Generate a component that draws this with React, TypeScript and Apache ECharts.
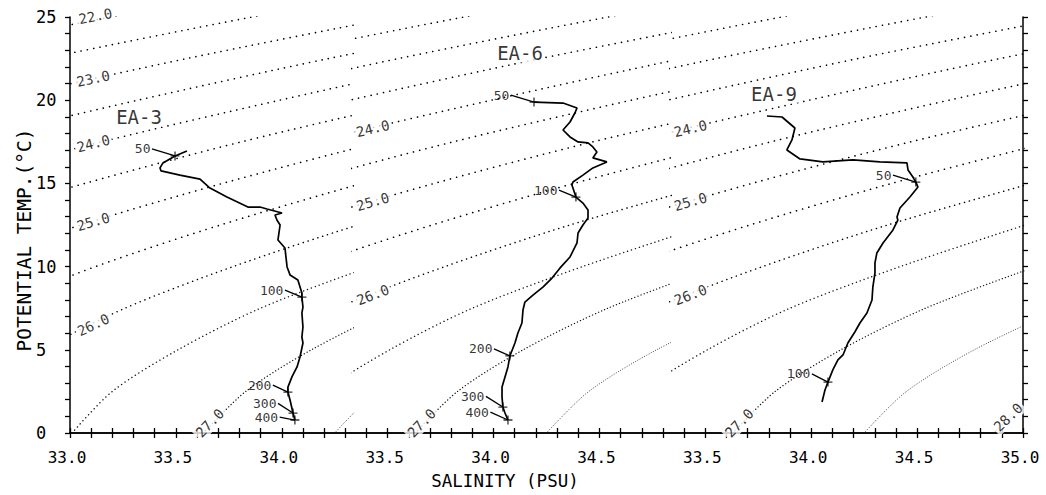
import React, { useEffect, useRef } from 'react';
import * as echarts from 'echarts';

const FONT = '"DejaVu Sans Mono", "Liberation Mono", monospace';

// Continuous plotting axis (u) and the three panels' local salinity offsets
const U_MIN = 33.0;
const U_MAX = 37.5;
const PANEL_U = [[33.0, 34.3333], [34.3333, 35.8333], [35.8333, 37.5]];
const PANEL_OFFSET = [0, 1.0, 2.5];

// Sigma-theta contour levels and points [S, T]
const CONTOUR_LEVELS = [22.0, 22.5, 23.0, 23.5, 24.0, 24.5, 25.0, 25.5, 26.0, 26.5, 27.0, 27.5, 28.0];
const CONTOUR_POINTS = [
  [[32.21, 22.5], [33.19, 25], [34.25, 27.5]],
  [[31.99, 20], [32.88, 22.5], [33.86, 25], [34.93, 27.5]],
  [[32.65, 20], [33.55, 22.5], [34.54, 25], [35.61, 27.5]],
  [[32.48, 17.5], [33.32, 20], [34.22, 22.5], [35.22, 25]],
  [[32.41, 15], [33.15, 17.5], [33.99, 20], [34.89, 22.5], [35.89, 25]],
  [[32.40, 12.5], [33.07, 15], [33.81, 17.5], [34.65, 20], [35.56, 22.5]],
  [[32.47, 10], [33.05, 12.5], [33.72, 15], [34.47, 17.5], [35.32, 20]],
  [[32.62, 7.5], [33.12, 10], [33.71, 12.5], [34.38, 15], [35.13, 17.5]],
  [[32.40, 0], [32.58, 2.5], [32.87, 5], [33.26, 7.5], [33.77, 10], [34.36, 12.5], [35.04, 15]],
  [[33.01, 0], [33.20, 2.5], [33.51, 5], [33.90, 7.5], [34.42, 10], [35.01, 12.5]],
  [[33.63, 0], [33.83, 2.5], [34.14, 5], [34.54, 7.5], [35.06, 10]],
  [[34.25, 0], [34.45, 2.5], [34.77, 5], [35.18, 7.5]],
  [[34.86, 0], [35.08, 2.5]],
];

// Contour labels per panel: [text, S, T]
const CONTOUR_LABELS = [
  [['22.0', 33.12, 25.05], ['23.0', 33.11, 21.3], ['24.0', 33.11, 17.4], ['25.0', 33.11, 12.7], ['26.0', 33.11, 6.5], ['27.0', 33.66, 0.6]],
  [['24.0', 33.43, 18.3], ['25.0', 33.43, 13.9], ['26.0', 33.43, 8.3], ['27.0', 33.66, 0.6]],
  [['24.0', 33.43, 18.3], ['25.0', 33.43, 13.9], ['26.0', 33.43, 8.3], ['27.0', 33.66, 0.6], ['28.0', 34.93, 0.95]],
];
const CONTOUR_LABEL_ROT = [
  [11, 12, 14, 16, 25, 46],
  [13, 16, 21, 46],
  [13, 16, 21, 46, 44],
];

// Stations
const STATION_NAMES = ['EA-3', 'EA-6', 'EA-9'];
const STATION_NAME_POS = [[33.326, 18.99], [34.125, 22.84], [33.824, 20.37]];

const EA3 = [
  [33.552, 16.95], [33.496, 16.65], [33.439, 16.23], [33.425, 15.93], [33.430, 15.75], [33.519, 15.50],
  [33.614, 15.26], [33.661, 14.72], [33.741, 14.18], [33.840, 13.58], [33.897, 13.58], [33.930, 13.46],
  [34.001, 13.22], [33.968, 13.10], [33.977, 12.80], [33.992, 12.50], [33.982, 11.60], [34.015, 11.12],
  [34.025, 9.98], [34.039, 9.50], [34.076, 9.19], [34.095, 8.41], [34.095, 8.17], [34.100, 7.57],
  [34.095, 7.21], [34.100, 6.37], [34.095, 5.77], [34.100, 5.41], [34.086, 4.57], [34.072, 3.97],
  [34.048, 3.37], [34.029, 2.76], [34.029, 2.46], [34.039, 1.98], [34.053, 1.20], [34.062, 0.78],
];
const EA6 = [
  [34.191, 19.89], [34.328, 19.83], [34.394, 19.53], [34.384, 19.23], [34.361, 18.69], [34.328, 18.21],
  [34.361, 17.79], [34.399, 17.49], [34.446, 17.43], [34.469, 17.19], [34.488, 16.89], [34.469, 16.53],
  [34.535, 16.29], [34.469, 15.93], [34.422, 15.50], [34.375, 15.08], [34.370, 14.90], [34.389, 14.18],
  [34.422, 13.82], [34.446, 13.40], [34.446, 12.92], [34.422, 12.50], [34.399, 12.02], [34.394, 11.42],
  [34.361, 10.58], [34.314, 9.92], [34.276, 9.31], [34.233, 8.77], [34.186, 8.29], [34.148, 7.87],
  [34.139, 7.39], [34.134, 6.61], [34.115, 6.01], [34.101, 5.41], [34.077, 4.63], [34.068, 3.97],
  [34.054, 3.37], [34.040, 2.76], [34.040, 2.16], [34.044, 1.56], [34.054, 1.20], [34.068, 0.78],
];
const EA9 = [
  [33.791, 19.05], [33.862, 18.99], [33.923, 18.33], [33.909, 17.61], [33.885, 17.01], [33.947, 16.47],
  [34.055, 16.29], [34.197, 16.41], [34.324, 16.29], [34.452, 16.23], [34.457, 15.81], [34.480, 15.38],
  [34.494, 15.08], [34.504, 14.78], [34.466, 14.18], [34.419, 13.52], [34.405, 12.98], [34.409, 12.80],
  [34.386, 12.20], [34.339, 11.42], [34.310, 10.82], [34.301, 10.22], [34.301, 9.62], [34.291, 8.77],
  [34.287, 7.99], [34.263, 7.21], [34.230, 6.61], [34.206, 6.07], [34.173, 5.41], [34.150, 4.69],
  [34.126, 4.39], [34.102, 3.79], [34.079, 3.06], [34.065, 2.58], [34.051, 1.86],
];
const STATION_DATA = [EA3, EA6, EA9];

// Depth marks: label text, marker point, leader start point
const EA3_DEPTHS = ['50', '100', '200', '300', '400'];
const EA3_MARK_AT = [[33.496, 16.65], [34.095, 8.17], [34.029, 2.46], [34.053, 1.20], [34.062, 0.78]];
const EA3_MARK_FROM = [[33.387, 17.07], [34.015, 8.59], [33.958, 2.88], [33.982, 1.78], [33.990, 0.95]];
const EA6_DEPTHS = ['50', '100', '200', '300', '400'];
const EA6_MARK_AT = [[34.191, 19.89], [34.389, 14.18], [34.077, 4.63], [34.044, 1.56], [34.068, 0.78]];
const EA6_MARK_FROM = [[34.082, 20.31], [34.309, 14.60], [34.002, 5.05], [33.964, 2.20], [33.985, 1.25]];
const EA9_DEPTHS = ['50', '100'];
const EA9_MARK_AT = [[34.494, 15.08], [34.079, 3.06]];
const EA9_MARK_FROM = [[34.386, 15.50], [34.003, 3.55]];
const DEPTHS = [EA3_DEPTHS, EA6_DEPTHS, EA9_DEPTHS];
const MARK_AT = [EA3_MARK_AT, EA6_MARK_AT, EA9_MARK_AT];
const MARK_FROM = [EA3_MARK_FROM, EA6_MARK_FROM, EA9_MARK_FROM];

const Y_TICK_LABELS_STEP = 5;

function xLabel(v: number): string {
  const off = v < 34.3334 ? PANEL_OFFSET[0] : v < 35.8334 ? PANEL_OFFSET[1] : PANEL_OFFSET[2];
  return (v - off).toFixed(1);
}

function dotStyle(lv: number) {
  if (lv <= 25.5) return { width: 1.6, type: [0.1, 6.3], color: '#000' };
  if (lv === 26.0) return { width: 1.5, type: [0.1, 5], color: '#000' };
  if (lv === 26.5) return { width: 1.4, type: [0.1, 4], color: '#111' };
  if (lv === 27.0) return { width: 1.3, type: [0.1, 3.2], color: '#111' };
  return { width: 1.0, type: [0.1, 2.4], color: '#333' };
}

export default function App() {
  const ref = useRef<HTMLDivElement>(null);
  useEffect(() => {
    const chart = echarts.init(ref.current!, null, { renderer: 'svg' });
    const GL = 70, GT = 17, GW = 953, GH = 416;
    const px = GW / (U_MAX - U_MIN);

    const grids: any[] = [{ left: GL, top: GT, width: GW, height: GH, containLabel: false, outerBoundsMode: 'none' }];
    const xAxes: any[] = [];
    const yAxes: any[] = [];
    const axisCommonLine = { show: true, lineStyle: { color: '#000', width: 1.5 } };
    const tick = { show: true, inside: false, length: 5, lineStyle: { color: '#000', width: 1.3 } };
    const minor = { show: true, splitNumber: 5, length: 5, lineStyle: { color: '#000', width: 1.3 } };
    xAxes.push({
      type: 'value', gridIndex: 0, position: 'bottom', min: U_MIN, max: U_MAX, interval: 0.5,
      axisLine: axisCommonLine, axisTick: tick, minorTick: minor,
      splitLine: { show: false }, minorSplitLine: { show: false },
      axisLabel: { show: true, formatter: xLabel, margin: 16, fontFamily: FONT, fontSize: 16, color: '#000', padding: [0, 6, 0, 0] },
    });
    xAxes.push({
      type: 'value', gridIndex: 0, position: 'top', min: U_MIN, max: U_MAX, interval: 0.5,
      axisLine: axisCommonLine, axisTick: tick, minorTick: minor,
      splitLine: { show: false }, axisLabel: { show: false },
    });
    yAxes.push({
      type: 'value', gridIndex: 0, position: 'left', min: 0, max: 25, interval: Y_TICK_LABELS_STEP,
      axisLine: axisCommonLine, axisTick: tick, minorTick: minor,
      splitLine: { show: false },
      axisLabel: { show: true, align: 'left', margin: 34, fontFamily: FONT, fontSize: 17, color: '#000' },
    });
    yAxes.push({
      type: 'value', gridIndex: 0, position: 'right', min: 0, max: 25, interval: Y_TICK_LABELS_STEP,
      axisLine: axisCommonLine, axisTick: tick, minorTick: minor,
      splitLine: { show: false }, axisLabel: { show: false },
    });

    PANEL_U.forEach((rng, p) => {
      grids.push({ left: GL + (rng[0] - U_MIN) * px, top: GT, width: (rng[1] - rng[0]) * px, height: GH, containLabel: false, outerBoundsMode: 'none' });
      xAxes.push({ type: 'value', gridIndex: p + 1, show: false, min: rng[0] - PANEL_OFFSET[p], max: rng[1] - PANEL_OFFSET[p] });
      yAxes.push({ type: 'value', gridIndex: p + 1, show: false, min: 0, max: 25 });
    });

    const series: any[] = [];
    PANEL_U.forEach((_, p) => {
      const ax = p + 2;
      CONTOUR_LEVELS.forEach((lv, k) => {
        const ds = dotStyle(lv);
        series.push({
          type: 'line', xAxisIndex: ax, yAxisIndex: ax, data: CONTOUR_POINTS[k], showSymbol: false, symbol: 'none',
          smooth: 0.3, clip: true, silent: true, z: 2,
          lineStyle: { color: ds.color, width: ds.width, type: ds.type, cap: 'round' },
        });
      });
    });
    PANEL_U.forEach((_, p) => {
      const ax = p + 2;
      series.push({
        type: 'scatter', xAxisIndex: ax, yAxisIndex: ax, clip: false, silent: true, z: 3,
        symbolSize: 1, itemStyle: { color: 'rgba(0,0,0,0)' },
        label: { show: true, formatter: '{b}', position: 'inside', fontFamily: FONT, fontSize: 14, color: '#000', backgroundColor: '#fff', padding: [1, 2] },
        data: CONTOUR_LABELS[p].map((l, i) => ({ name: l[0], value: [l[1], l[2]], label: { rotate: CONTOUR_LABEL_ROT[p][i] } })),
      });
      series.push({
        type: 'scatter', xAxisIndex: ax, yAxisIndex: ax, clip: false, silent: true, z: 3,
        symbolSize: 1, itemStyle: { color: 'rgba(0,0,0,0)' },
        label: { show: true, formatter: '{b}', position: 'inside', fontFamily: FONT, fontSize: 19, color: '#000', backgroundColor: '#fff', padding: [0, 1] },
        data: [{ name: STATION_NAMES[p], value: STATION_NAME_POS[p] }],
      });
      series.push({
        type: 'line', xAxisIndex: ax, yAxisIndex: ax, data: STATION_DATA[p], showSymbol: false, symbol: 'none',
        clip: false, silent: true, z: 4, lineStyle: { color: '#000', width: 1.7 },
      });
      MARK_AT[p].forEach((pt, i) => {
        series.push({
          type: 'line', xAxisIndex: ax, yAxisIndex: ax, data: [MARK_FROM[p][i], pt], showSymbol: false, symbol: 'none',
          clip: false, silent: true, z: 4, lineStyle: { color: '#000', width: 1.3 },
        });
      });
      series.push({
        type: 'scatter', xAxisIndex: ax, yAxisIndex: ax, clip: false, silent: true, z: 5,
        symbol: 'path://M5,0L5,10M0,5L10,5', symbolSize: 9,
        itemStyle: { color: 'rgba(0,0,0,0)', borderColor: '#000', borderWidth: 1.3 },
        data: MARK_AT[p],
      });
      series.push({
        type: 'scatter', xAxisIndex: ax, yAxisIndex: ax, clip: false, silent: true, z: 5,
        symbolSize: 1, itemStyle: { color: 'rgba(0,0,0,0)' },
        label: { show: true, formatter: '{b}', position: 'left', distance: 1, fontFamily: FONT, fontSize: 13, lineHeight: 12, color: '#000' },
        data: DEPTHS[p].map((d, i) => ({ name: d, value: MARK_FROM[p][i] })),
      });
    });

    chart.setOption({
      animation: false,
      backgroundColor: '#fff',
      grid: grids,
      xAxis: xAxes,
      yAxis: yAxes,
      series,
      graphic: [
        { type: 'text', x: 505, y: 481, style: { text: 'SALINITY (PSU)', font: `17.5px ${FONT}`, fill: '#000', align: 'center', verticalAlign: 'middle', textAlign: 'center', textVerticalAlign: 'middle' } },
        { type: 'text', x: 24, y: 240, rotation: Math.PI / 2, style: { text: 'POTENTIAL TEMP.(°C)', font: `19.5px ${FONT}`, fill: '#000', align: 'center', verticalAlign: 'middle', textAlign: 'center', textVerticalAlign: 'middle' } },
      ],
    });
    return () => chart.dispose();
  }, []);
  return <div ref={ref} style={{ position: 'fixed', left: 0, top: 0, width: 1046, height: 495, background: '#fff' }} />;
}
